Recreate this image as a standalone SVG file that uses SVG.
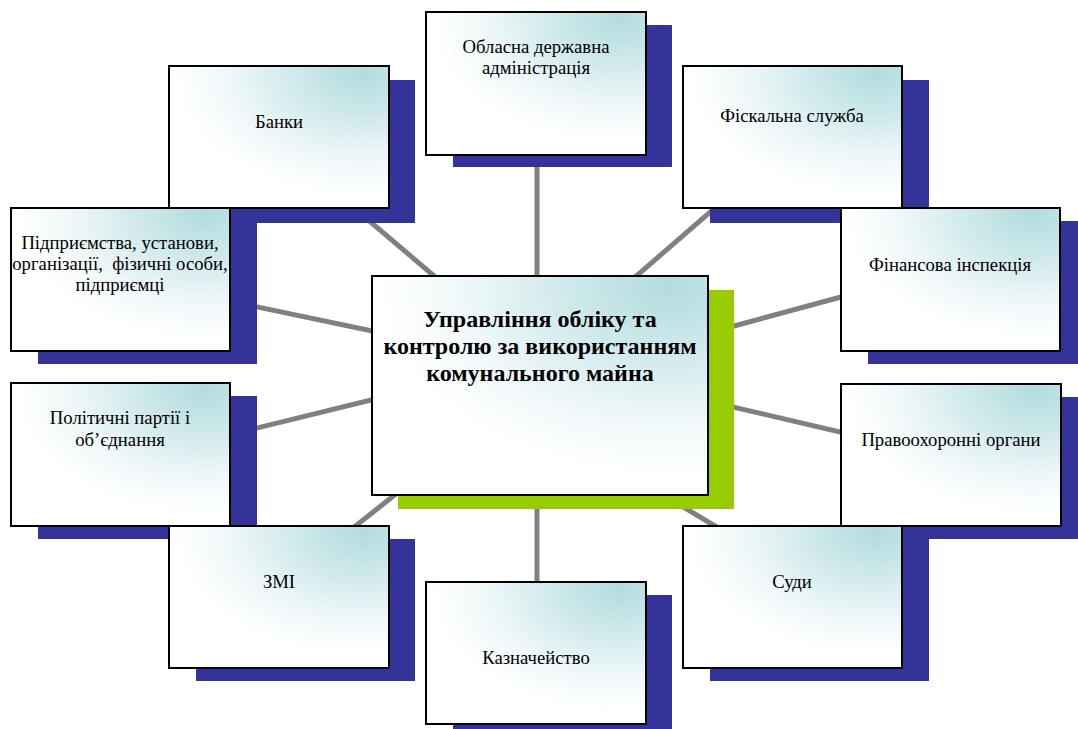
<svg xmlns="http://www.w3.org/2000/svg" width="1078" height="729" viewBox="0 0 1078 729">
<defs>
<radialGradient id="g" cx="0.88" cy="0.05" r="0.85" fx="0.88" fy="0.05">
<stop offset="0" stop-color="#b3dcdf"/>
<stop offset="0.35" stop-color="#cfe9eb"/>
<stop offset="0.7" stop-color="#eef7f8"/>
<stop offset="1" stop-color="#ffffff"/>
</radialGradient>
<style>
.sh{fill:#333399}
.gr{fill:#99cc00}
.bx{fill:url(#g);stroke:#000;stroke-width:2}
.t{font-family:"Liberation Serif","Times New Roman",serif;font-size:18.7px;fill:#000;text-anchor:middle}
.tb{font-family:"Liberation Serif","Times New Roman",serif;font-size:24px;font-weight:bold;fill:#000;text-anchor:middle}
.c line{stroke:#808080;stroke-width:5}
</style>
</defs>
<rect width="1078" height="729" fill="#fff"/>
<g class="c" id="connectors">
<line x1="537" y1="150" x2="537" y2="290"/>
<line x1="537" y1="480" x2="537" y2="590"/>
<line x1="300" y1="162" x2="480" y2="315"/>
<line x1="776" y1="155" x2="596" y2="311"/>
<line x1="200" y1="295" x2="420" y2="341"/>
<line x1="900" y1="281" x2="690" y2="338"/>
<line x1="200" y1="442" x2="420" y2="388"/>
<line x1="900" y1="446" x2="690" y2="397"/>
<line x1="300" y1="570" x2="430" y2="467"/>
<line x1="760" y1="553" x2="650" y2="487"/>
</g>
<g id="n-center">
<rect class="gr" x="398" y="290" width="336" height="219"/>
<rect class="bx" x="372" y="276" width="336" height="219"/>
<text class="tb" x="540" y="327">Управління обліку та</text>
<text class="tb" x="540" y="354">контролю за використанням</text>
<text class="tb" x="540" y="381">комунального майна</text>
</g>
<g id="n-oda">
<rect class="sh" x="453" y="25" width="219" height="142"/>
<rect class="bx" x="426" y="12" width="220" height="143"/>
<text class="t" x="536" y="53">Обласна державна</text>
<text class="t" x="536" y="74">адміністрація</text>
</g>
<g id="n-banky">
<rect class="sh" x="196" y="80" width="219" height="143"/>
<rect class="bx" x="169" y="66" width="220" height="142"/>
<text class="t" x="279" y="128">Банки</text>
</g>
<g id="n-fiscal">
<rect class="sh" x="710" y="80" width="219" height="143"/>
<rect class="bx" x="683" y="66" width="219" height="142"/>
<text class="t" x="792" y="122">Фіскальна служба</text>
</g>
<g id="n-pidpr">
<rect class="sh" x="38" y="221" width="219" height="143"/>
<rect class="bx" x="11" y="208" width="219" height="143"/>
<text class="t" x="120" y="249">Підприємства, установи,</text>
<text class="t" x="120" y="270" style="white-space:pre">організації,  фізичні особи,</text>
<text class="t" x="120" y="291">підприємці</text>
</g>
<g id="n-fininsp">
<rect class="sh" x="868" y="221" width="219" height="143"/>
<rect class="bx" x="841" y="208" width="219" height="143"/>
<text class="t" x="950" y="271">Фінансова інспекція</text>
</g>
<g id="n-polit">
<rect class="sh" x="38" y="396" width="219" height="143"/>
<rect class="bx" x="11" y="383" width="219" height="143"/>
<text class="t" x="120" y="424">Політичні партії і</text>
<text class="t" x="120" y="446">об’єднання</text>
</g>
<g id="n-pravo">
<rect class="sh" x="868" y="397" width="219" height="142"/>
<rect class="bx" x="841" y="384" width="220" height="142"/>
<text class="t" x="951" y="446">Правоохоронні органи</text>
</g>
<g id="n-zmi">
<rect class="sh" x="196" y="539" width="219" height="142"/>
<rect class="bx" x="169" y="526" width="220" height="142"/>
<text class="t" x="279" y="588">ЗМІ</text>
</g>
<g id="n-sudy">
<rect class="sh" x="710" y="539" width="219" height="142"/>
<rect class="bx" x="683" y="526" width="219" height="142"/>
<text class="t" x="792" y="588">Суди</text>
</g>
<g id="n-kazn">
<rect class="sh" x="453" y="595" width="219" height="142"/>
<rect class="bx" x="426" y="582" width="220" height="142"/>
<text class="t" x="536" y="664">Казначейство</text>
</g>
</svg>
